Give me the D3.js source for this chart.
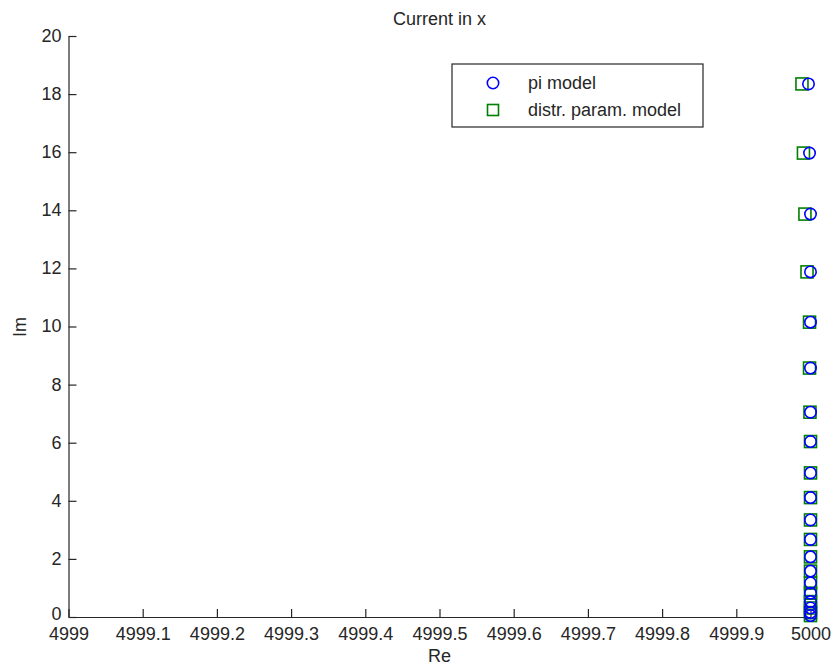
<!DOCTYPE html>
<html><head><meta charset="utf-8">
<script src="https://cdn.jsdelivr.net/npm/d3@7"></script>
<style>body{margin:0;background:#fff}text{font-family:"Liberation Sans",Arial,sans-serif}</style>
</head><body><svg id="c" width="834" height="668"></svg>
<script>
const title = "Current in x";
const xLabel = "Re", yLabel = "Im";
const xTicks = [4999, 4999.1, 4999.2, 4999.3, 4999.4, 4999.5, 4999.6, 4999.7, 4999.8, 4999.9, 5000];
const yTicks = [0, 2, 4, 6, 8, 10, 12, 14, 16, 18, 20];
const seriesNames = ["pi model", "distr. param. model"];
const imValues = [18.35, 15.97, 13.87, 11.88, 10.15, 8.57, 7.05, 6.04, 4.96, 4.11, 3.34, 2.67, 2.07, 1.58, 1.17, 0.82, 0.53, 0.31, 0.15, 0.05];
const piRe = [4999.9973, 4999.9987, 5000, 5000, 5000, 5000, 5000, 5000, 5000, 5000, 5000, 5000, 5000, 5000, 5000, 5000, 5000, 5000, 5000, 5000];
const distrRe = [4999.9885, 4999.9905, 4999.9925, 4999.9953, 4999.9987, 4999.9987, 4999.9993, 5000, 5000, 5000, 5000, 5000, 5000, 5000, 5000, 5000, 5000, 5000, 5000, 5000];

const svg = d3.select("#c");
const L = 68.5, R = 810.5, T = 36, B = 617;
const x = d3.scaleLinear().domain([4999, 5000]).range([L, R]);
const y = d3.scaleLinear().domain([0, 20]).range([B, T]);
const fs = 18, col = "#262626";

const xa = svg.append("g").attr("transform", `translate(0,${B})`)
  .call(d3.axisBottom(x).tickValues(xTicks).tickSize(-8).tickSizeOuter(0).tickPadding(10).tickFormat(d => String(+d.toFixed(1))));
const ya = svg.append("g").attr("transform", `translate(${L},0)`)
  .call(d3.axisLeft(y).tickValues(yTicks).tickSize(-8).tickSizeOuter(0).tickPadding(7).tickFormat(d3.format("d")));
[xa, ya].forEach(a => {
  a.select(".domain").attr("stroke", col).attr("stroke-width", 1.2);
  a.selectAll(".tick line").attr("stroke", col).attr("stroke-width", 1.2);
  a.selectAll(".tick text").attr("fill", col).attr("font-size", fs).attr("font-family", "Liberation Sans, Arial, sans-serif");
});
ya.selectAll(".tick text").attr("dy", d => d === 0 ? "0.15em" : "0.3em");
xa.selectAll(".tick text").attr("dy", "0.74em");

svg.append("text").attr("x", 439.5).attr("y", 25).attr("text-anchor", "middle").attr("font-size", fs).attr("fill", col).text(title);
svg.append("text").attr("x", 439.5).attr("y", 662).attr("text-anchor", "middle").attr("font-size", fs).attr("fill", col).text(xLabel);
svg.append("text").attr("transform", `translate(26,327) rotate(-90)`).attr("text-anchor", "middle").attr("font-size", fs).attr("fill", col).text(yLabel);

const sq = 12, rc = 5.7;
const blue = "#0000ff", green = "#008000";
// squares
svg.append("g").selectAll("rect").data(imValues).join("rect")
  .attr("x", (d, i) => x(distrRe[i]) - sq / 2).attr("y", d => y(d) - sq / 2)
  .attr("width", sq).attr("height", sq).attr("fill", "none").attr("stroke", green).attr("stroke-width", 1.6);
// circles
svg.append("g").selectAll("circle").data(imValues).join("circle")
  .attr("cx", (d, i) => x(piRe[i])).attr("cy", d => y(d)).attr("r", rc)
  .attr("fill", "none").attr("stroke", blue).attr("stroke-width", 1.6);

// legend
const lg = svg.append("g");
lg.append("rect").attr("x", 452).attr("y", 64).attr("width", 251).attr("height", 63)
  .attr("fill", "#fff").attr("stroke", col).attr("stroke-width", 1.2);
lg.append("circle").attr("cx", 493).attr("cy", 83).attr("r", rc).attr("fill", "none").attr("stroke", blue).attr("stroke-width", 1.6);
lg.append("rect").attr("x", 493 - sq / 2 + 0.5).attr("y", 110 - sq / 2 + 0.5).attr("width", sq - 1).attr("height", sq - 1).attr("fill", "none").attr("stroke", green).attr("stroke-width", 1.6);
lg.append("text").attr("x", 528).attr("y", 89).attr("font-size", fs).attr("fill", col).text(seriesNames[0]);
lg.append("text").attr("x", 528).attr("y", 116).attr("font-size", fs).attr("fill", col).text(seriesNames[1]);
</script></body></html>
